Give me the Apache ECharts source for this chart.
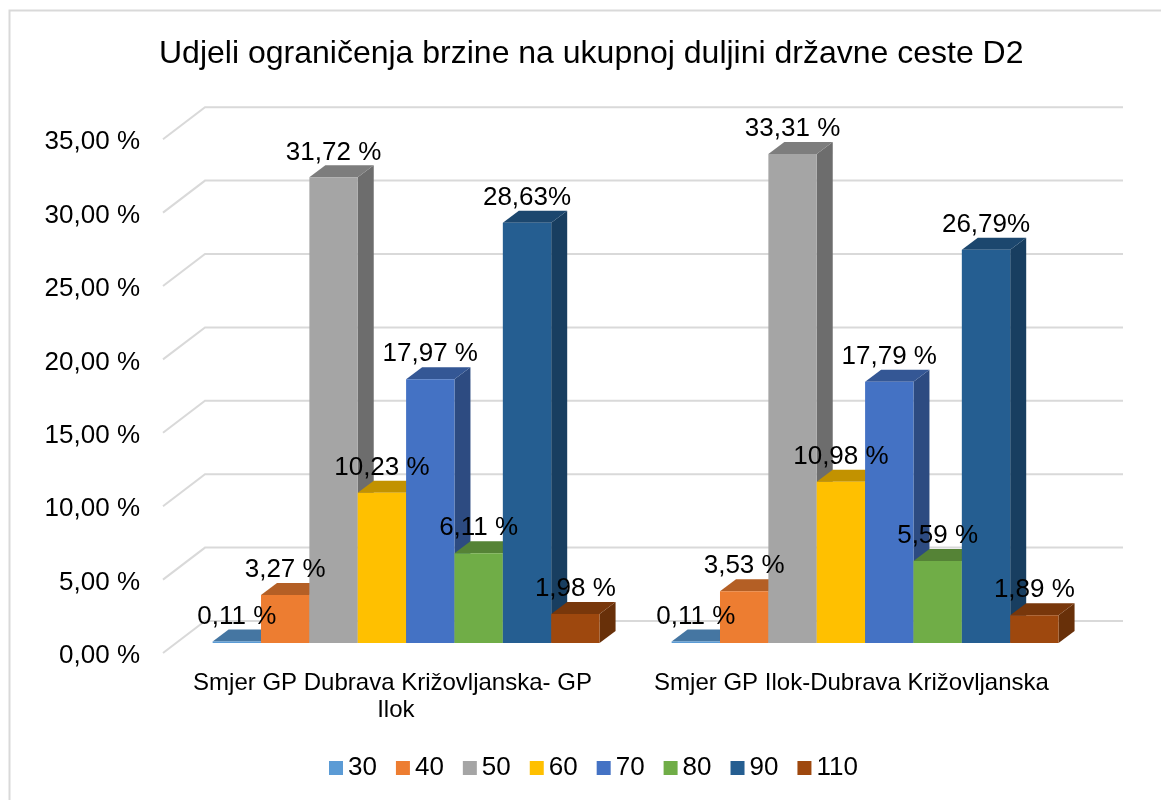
<!DOCTYPE html>
<html>
<head>
<meta charset="utf-8">
<style>
  html, body { margin: 0; padding: 0; background: #fff; }
  #chart { width: 1161px; height: 800px; }
</style>
<script src="https://cdn.jsdelivr.net/npm/echarts@6/dist/echarts.min.js"></script>
</head>
<body>
<div id="chart"></div>
<script>
const categories = ['Smjer GP Dubrava Križovljanska- GP Ilok', 'Smjer GP Ilok-Dubrava Križovljanska']
const yTicks = [0, 5, 10, 15, 20, 25, 30, 35]

const speeds = ['30', '40', '50', '60', '70', '80', '90', '110']
const colors = ['#5B9BD5', '#ED7D31', '#A5A5A5', '#FFC000', '#4472C4', '#70AD47', '#255E91', '#9E480E']

const values30 = [0.11, 0.11]
const values40 = [3.27, 3.53]
const values50 = [31.72, 33.31]
const values60 = [10.23, 10.98]
const values70 = [17.97, 17.79]
const values80 = [6.11, 5.59]
const values90 = [28.63, 26.79]
const values110 = [1.98, 1.89]

const labels30 = ['0,11 %', '0,11 %']
const labels40 = ['3,27 %', '3,53 %']
const labels50 = ['31,72 %', '33,31 %']
const labels60 = ['10,23 %', '10,98 %']
const labels70 = ['17,97 %', '17,79 %']
const labels80 = ['6,11 %', '5,59 %']
const labels90 = ['28,63%', '26,79%']
const labels110 = ['1,98 %', '1,89 %']

const allValues = [values30, values40, values50, values60, values70, values80, values90, values110]
const allLabels = [labels30, labels40, labels50, labels60, labels70, labels80, labels90, labels110]

const FONT = '"Liberation Sans", Arial, sans-serif'
const depthX = 16
const depthY = 12

function shade(hex, k) {
  const n = parseInt(hex.slice(1), 16)
  const r = Math.round((n >> 16) * k)
  const g = Math.round(((n >> 8) & 255) * k)
  const b = Math.round((n & 255) * k)
  return 'rgb(' + r + ',' + g + ',' + b + ')'
}

// one 3d column: front, top and right side
function renderBar(s) {
  return function (params, api) {
    const cat = api.value(0)
    const val = api.value(1)
    const center = api.coord([cat, val])
    const base = api.coord([cat, 0])
    const w = api.size([1, 0])[0] / 9.49
    const x = center[0] + (s - 4) * w
    const top = center[1]
    const bottom = base[1]
    return {
      type: 'group',
      children: [
        { type: 'polygon', shape: { points: [[x + w, top], [x + w + depthX, top - depthY], [x + w + depthX, bottom - depthY], [x + w, bottom]] }, style: { fill: shade(colors[s], 0.66) } },
        { type: 'polygon', shape: { points: [[x, top], [x + depthX, top - depthY], [x + w + depthX, top - depthY], [x + w, top]] }, style: { fill: shade(colors[s], 0.76) } },
        { type: 'rect', shape: { x: x, y: top, width: w, height: bottom - top }, style: { fill: colors[s] } },
        { type: 'text', z2: 100, style: { x: x + w / 2, y: top - 25, text: allLabels[s][params.dataIndex], fill: '#000', font: '26px ' + FONT, textAlign: 'center', textVerticalAlign: 'middle' } }
      ]
    }
  }
}

// side wall and back wall lines for one tick
function renderGrid(params, api) {
  const y = api.coord([0, api.value(1)])[1]
  const left = params.coordSys.x
  const right = left + params.coordSys.width
  return {
    type: 'polyline',
    shape: { points: [[left, y], [left + 42, y - 32], [right + 42, y - 32]] },
    style: { stroke: '#D9D9D9', lineWidth: 2, fill: null }
  }
}

const series = [{
  type: 'custom',
  name: 'walls',
  xAxisIndex: 0,
  yAxisIndex: 0,
  silent: true,
  renderItem: renderGrid,
  data: yTicks.map(t => [0, t])
}]

speeds.forEach((name, s) => {
  series.push({
    type: 'custom',
    name: name,
    xAxisIndex: 1,
    yAxisIndex: 1,
    itemStyle: { color: colors[s] },
    renderItem: renderBar(s),
    data: allValues[s].map((v, i) => [i, v])
  })
})

const chart = echarts.init(document.getElementById('chart'))
chart.setOption({
  animation: false,
  backgroundColor: '#fff',
  title: {
    text: 'Udjeli ograničenja brzine na ukupnoj duljini državne ceste D2',
    left: 154,
    top: 33,
    textStyle: { fontFamily: FONT, fontSize: 32, fontWeight: 'normal', color: '#000' }
  },
  legend: {
    data: speeds,
    left: 329,
    top: 755,
    padding: 0,
    icon: 'rect',
    itemWidth: 14,
    itemHeight: 14,
    itemGap: 19,
    itemStyle: { borderWidth: 0 },
    selectedMode: false,
    textStyle: { fontFamily: FONT, fontSize: 26, color: '#000' }
  },
  graphic: [{
    type: 'rect',
    silent: true,
    z: -1,
    shape: { x: 9.5, y: 10.5, width: 1300, height: 900 },
    style: { fill: 'none', stroke: '#D9D9D9', lineWidth: 2 }
  }],
  grid: [
    { left: 163, width: 918, top: 139.2, height: 513.8 },
    { left: 176.6, width: 918, top: 129.2, height: 513.8 }
  ],
  xAxis: [
    {
      type: 'category',
      gridIndex: 0,
      data: categories,
      axisLine: { show: false },
      axisTick: { show: false },
      axisLabel: {
        margin: 17,
        width: 415,
        overflow: 'break',
        lineHeight: 27,
        interval: 0,
        fontFamily: FONT,
        fontSize: 24,
        color: '#000'
      }
    },
    { type: 'category', gridIndex: 1, data: categories, show: false }
  ],
  yAxis: [
    {
      type: 'value',
      gridIndex: 0,
      min: 0,
      max: 35,
      interval: 5,
      axisLine: { show: false },
      axisTick: { show: false },
      splitLine: { show: false },
      axisLabel: {
        margin: 23,
        verticalAlign: 'top',
        lineHeight: 6,
        fontFamily: FONT,
        fontSize: 26,
        color: '#000',
        formatter: v => v.toFixed(2).replace('.', ',') + ' %'
      }
    },
    { type: 'value', gridIndex: 1, min: 0, max: 35, interval: 5, show: false, splitLine: { show: false } }
  ],
  series: series
})
</script>
</body>
</html>
